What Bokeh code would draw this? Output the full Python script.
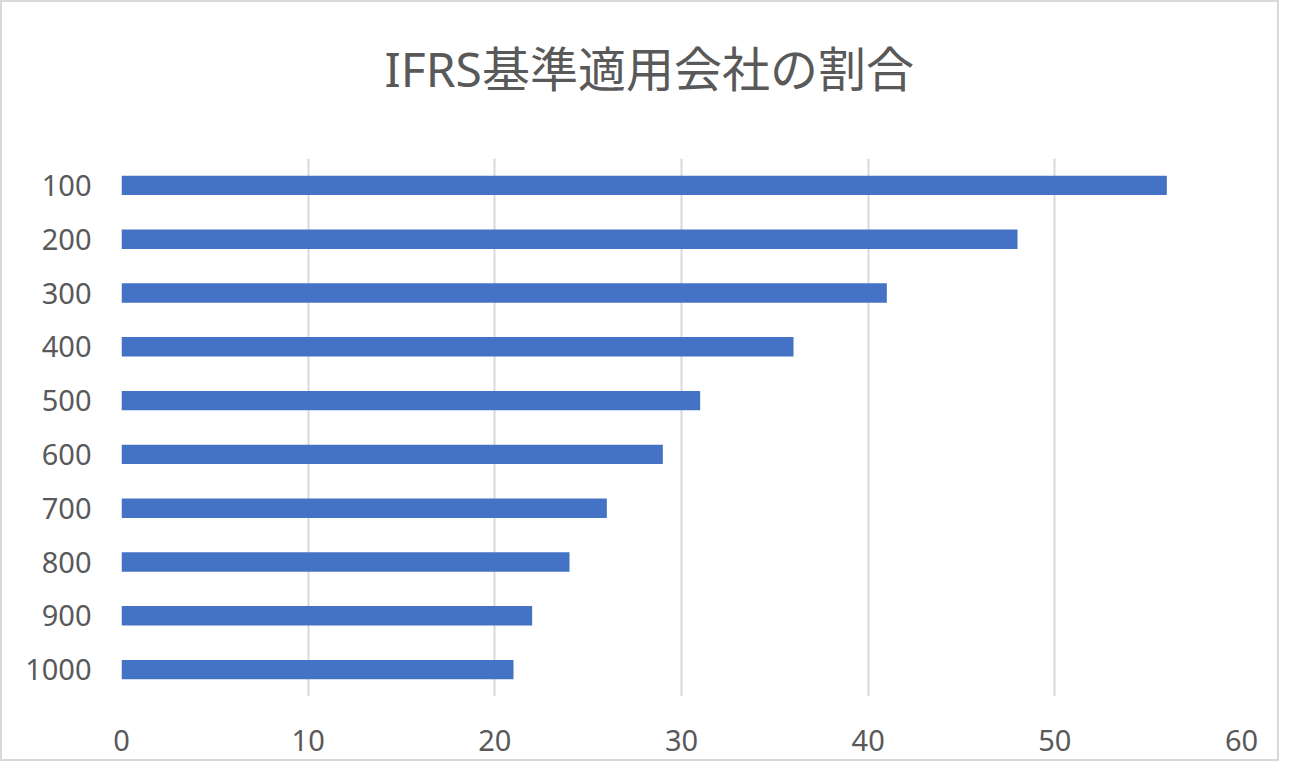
from bokeh.plotting import figure
from bokeh.models import FactorRange, Range1d, Title
from bokeh.embed import file_html
from bokeh.resources import INLINE

categories = ["100", "200", "300", "400", "500", "600", "700", "800", "900", "1000"]
values = [56, 48, 41, 36, 31, 29, 26, 24, 22, 21]
x_ticks = [0, 10, 20, 30, 40, 50, 60]
title_text = "IFRS基準適用会社の割合"

FONT = "'Noto Sans', 'Noto Sans CJK JP', sans-serif"
TXT = "#595959"

p = figure(
    width=1279, height=761,
    y_range=FactorRange(factors=list(reversed(categories)), range_padding=0),
    x_range=Range1d(0, 60),
    output_backend="svg", toolbar_location=None,
    min_border_left=119, min_border_right=40, min_border_top=156, min_border_bottom=67,
    styles={"border": "2px solid #d9d9d9"},
)
p.y_range.factor_padding = 0
p.hbar(y=categories, right=values, height=0.36, left=0, color="#4472C4", line_color=None)

# empty spacer between the frame and the title
p.add_layout(Title(text=" ", text_font_size="1px", standoff=50), "above")

p.title.text = title_text
p.title.align = "left"
p.title.offset = 263
p.title.text_font = FONT
p.title.text_font_size = "48px"
p.title.text_font_style = "normal"
p.title.text_color = TXT
p.title.standoff = 10

p.outline_line_color = None
p.ygrid.grid_line_color = None
p.xgrid.grid_line_color = "#d9d9d9"
p.xgrid.grid_line_width = 2
p.xaxis.ticker = x_ticks

for ax in (p.xaxis, p.yaxis):
    ax.axis_line_color = None
    ax.major_tick_line_color = None
    ax.minor_tick_line_color = None
    ax.major_label_text_font = FONT
    ax.major_label_text_font_size = "29px"
    ax.major_label_text_color = TXT
p.yaxis.major_label_standoff = 24
p.xaxis.major_label_standoff = 27

open("out.html", "w").write(file_html(p, INLINE))
